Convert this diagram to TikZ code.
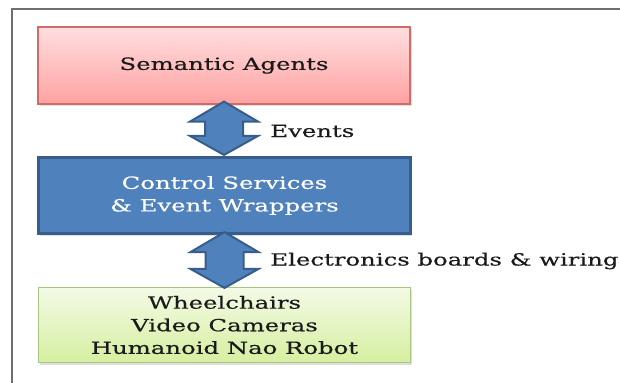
\documentclass[tikz,border=0pt]{standalone}
\usepackage{fontspec}
\setmainfont{DejaVu Serif}[FakeStretch=1.45,FakeBold=0.4]
\usetikzlibrary{calc,shadows}
\definecolor{framegray}{HTML}{6E6E6E}
\definecolor{pinktop}{HTML}{FFDEDE}
\definecolor{pinkbot}{HTML}{FFA2A2}
\definecolor{pinkline}{HTML}{CF6B6B}
\definecolor{bluefill}{HTML}{4F81BD}
\definecolor{blueline}{HTML}{385D8A}
\definecolor{greentop}{HTML}{F3FAE6}
\definecolor{greenbot}{HTML}{D6EFA0}
\definecolor{greenline}{HTML}{A9C681}
\definecolor{textblack}{HTML}{1A1A1A}
\tikzset{
  boxbase/.style={rectangle, minimum width=186pt, align=center, inner sep=0pt,
    font=\fontsize{8.4}{11.3}\selectfont,
    drop shadow={shadow xshift=0.8pt, shadow yshift=-1.2pt, opacity=0.25}},
  pinkbox/.style={boxbase, top color=pinktop, bottom color=pinkbot, draw=pinkline, line width=0.6pt, text=textblack},
  bluebox/.style={boxbase, fill=bluefill, draw=blueline, line width=1.6pt, text=white},
  greenbox/.style={boxbase, top color=greentop, bottom color=greenbot, draw=greenline, line width=0.6pt, text=textblack},
  arrowstyle/.style={fill=bluefill, draw=blueline, line width=1pt, line join=miter},
  lbl/.style={anchor=west, inner sep=0pt, font=\fontsize{8.4}{11}\selectfont, text=textblack},
  framestyle/.style={draw=framegray, line width=0.9pt}
}
\newcommand{\dblarrow}[2]{%
  \draw[arrowstyle] let \p1=(#1), \p2=(#2) in
    (\x1,\y1) -- (\x1+17pt,\y1-10pt) -- (\x1+9.5pt,\y1-10pt) -- (\x1+9.5pt,\y2+9.5pt)
    -- (\x1+17pt,\y2+9.5pt) -- (\x1,\y2) -- (\x1-17pt,\y2+9.5pt) -- (\x1-9.5pt,\y2+9.5pt)
    -- (\x1-9.5pt,\y1-10pt) -- (\x1-17pt,\y1-10pt) -- cycle;}
\begin{document}
\begin{tikzpicture}[x=0.5pt,y=-0.5pt]
\useasboundingbox (0,0) rectangle (620,382);
\fill[white] (0,0) rectangle (620,382);
\coordinate (frTR) at (621,8.8);
\coordinate (frTL) at (11.8,8.8);
\coordinate (frBL) at (11.8,383);
\draw[framestyle] (frTR) -- (frTL) -- (frBL);
\node[pinkbox, minimum height=38.5pt] (sa) at (224,65.5) {Semantic Agents};
\node[bluebox, minimum height=38pt] (cs) at (224.5,195.5) {\rule{0pt}{1.2pt}Control Services\\\& Event Wrappers};
\node[greenbox, minimum height=37.5pt] (hw) at (224.5,325) {\rule{0pt}{2pt}Wheelchairs\\Video Cameras\\Humanoid Nao Robot};
\coordinate (a1t) at ($(sa.south)+(0,-3)$);
\coordinate (a1b) at ($(cs.north)+(0,-1)$);
\coordinate (a2t) at ($(cs.south)+(0,-3)$);
\coordinate (a2b) at ($(hw.north)+(0,1)$);
\dblarrow{a1t}{a1b}
\dblarrow{a2t}{a2b}
\node[lbl] (ev) at (270,131) {Events};
\node[lbl] (el) at (270,261) {Electronics boards \& wiring};
\end{tikzpicture}
\end{document}
